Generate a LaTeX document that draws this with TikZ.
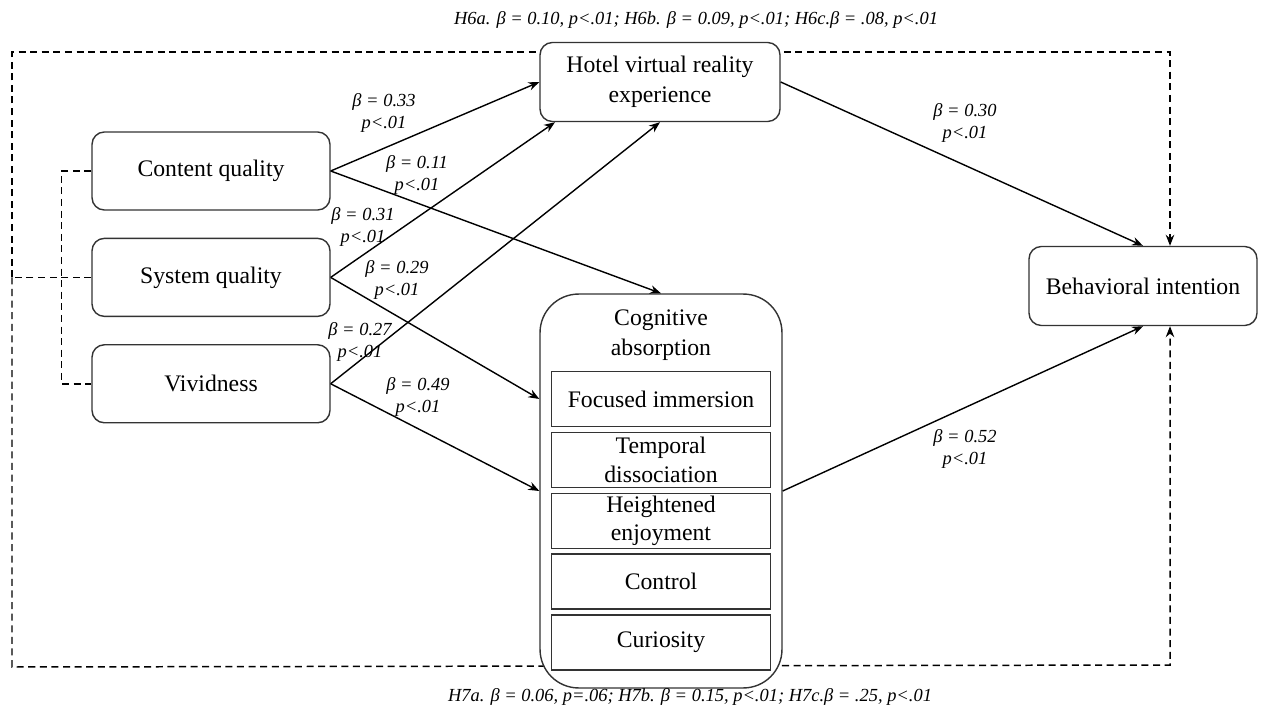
\documentclass[tikz,border=0pt]{standalone}
\usepackage{fontspec}
\setmainfont{Liberation Serif}
\usetikzlibrary{arrows.meta,positioning,backgrounds}

\begin{document}
\begin{tikzpicture}[x=0.02cm,y=-0.02cm,
  font=\fontsize{13.5}{17}\selectfont,node distance=0.54cm,
  var/.style={draw=black!80,fill=white,rounded corners=7pt,align=center,minimum width=4.76cm,minimum height=1.56cm,inner sep=2pt,line width=0.8pt},
  sub/.style={draw=black!80,fill=white,align=center,minimum width=4.38cm,minimum height=1.1cm,inner sep=1pt,line width=0.8pt,font=\fontsize{13.5}{16}\selectfont},
  coef/.style={font=\itshape\fontsize{10.5}{13}\selectfont,align=center,inner sep=1pt},
  arr/.style={-{Stealth[length=2.2mm,width=1.7mm]},line width=0.8pt,color=black},
  dline/.style={dash pattern=on 4pt off 2.6pt,line width=0.85pt}]
\useasboundingbox (0,0) rectangle (1261,713);
% antecedents
\node[var] (cq) at (211,171) {Content quality};
\node[var,below=of cq] (sq) {System quality};
\node[var,below=of sq] (viv) {Vividness};
% mediators and outcome
\node[var,minimum width=4.8cm,minimum height=1.58cm] (hvr) at (660,82) {Hotel virtual reality\\experience};
\node[var,minimum width=4.56cm,minimum height=1.58cm] (bi) at (1143,286) {Behavioral intention};
\node[draw=black!80,fill=white,rounded corners=22pt,minimum width=4.84cm,minimum height=7.88cm,line width=0.8pt] (ca) at (661,491) {};
\node[align=center] (catitle) at (661,335) {Cognitive\\absorption};
\node[sub] (fi) at (661,399) {Focused immersion};
\node[sub,below=0.09cm of fi] (td) {Temporal\\dissociation};
\node[sub,below=0.09cm of td] (he) {Heightened\\enjoyment};
\node[sub,below=0.09cm of he] (ctl) {Control};
\node[sub,below=0.09cm of ctl] (cur) {Curiosity};
% dashed control paths
\coordinate (tl) at (12,52); \coordinate (tr) at (1170,52);
\coordinate (bl) at (12,667); \coordinate (br) at (1170,665);
\begin{scope}[on background layer]
\draw[dline] (sq.west) -- (tl|-sq.west);
\draw[dline] (cq.west) -- ++(-30,0) |- (viv.west);
\draw[arr,dline] (tl|-sq.west) -- (tl) -- (tr) -- (tr|-bi.north);
\draw[arr,dline] (tl|-sq.west) -- (bl) -- (br) -- (br|-bi.south);
\end{scope}
% structural paths
\draw[arr] (cq.east) -- (hvr.west);
\draw[arr] (cq.east) -- (ca.north);
\draw[arr] (sq.east) -- ([xshift=-2.1cm]hvr.south);
\draw[arr] (sq.east) -- (ca.west|-fi);
\draw[arr] (viv.east) -- (hvr.south);
\draw[arr] (viv.east) -- (ca.west);
\draw[arr] (hvr.east) -- (bi.north);
\draw[arr] (ca.east) -- (bi.south);
% coefficients
\node[coef] (c1) at (384,113) {β = 0.33\\p<.01};
\node[coef] (c2) at (417,175) {β = 0.11\\p<.01};
\node[coef] (c3) at (363,227) {β = 0.31\\p<.01};
\node[coef] (c4) at (397,280) {β = 0.29\\p<.01};
\node[coef] (c5) at (360,342) {β = 0.27\\p<.01};
\node[coef] (c6) at (418,397) {β = 0.49\\p<.01};
\node[coef] (c7) at (965,123) {β = 0.30\\p<.01};
\node[coef] (c8) at (965,449) {β = 0.52\\p<.01};
\node[coef] (h6) at (696,20) {H6a. β = 0.10, p<.01; H6b. β = 0.09, p<.01; H6c.β = .08, p<.01};
\node[coef] (h7) at (690,697) {H7a. β = 0.06, p=.06; H7b. β = 0.15, p<.01; H7c.β = .25, p<.01};
\end{tikzpicture}
\end{document}
